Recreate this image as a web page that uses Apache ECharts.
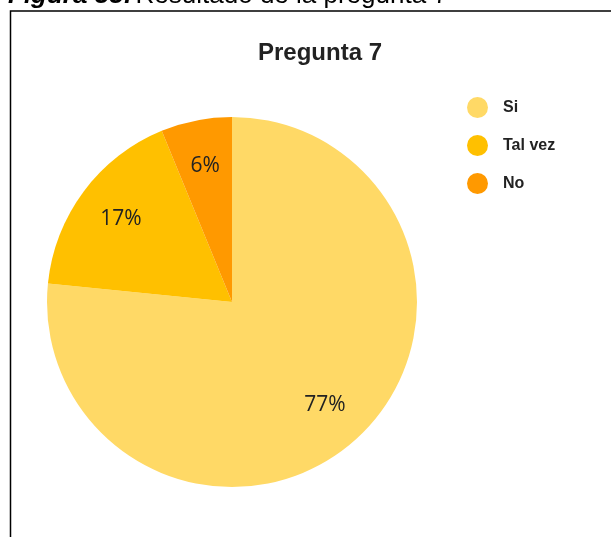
<!DOCTYPE html>
<html>
<head>
<meta charset="utf-8">
<script src="https://cdn.jsdelivr.net/npm/echarts@6/dist/echarts.min.js"></script>
<style>
html,body{margin:0;padding:0;background:#fff;}
#chart{width:611px;height:537px;}
</style>
</head>
<body>
<div id="chart"></div>
<script>
const categories = ['Si', 'Tal vez', 'No'];
const values = [76.6, 17.2, 6.2];
const colors = ['#FFD966', '#FFC000', '#FF9900'];
const titleText = 'Pregunta 7';
const captionBold = 'Figura 55:';
const captionText = 'Resultado de la pregunta 7';

const chart = echarts.init(document.getElementById('chart'), null, {renderer: 'canvas'});
const data = categories.map((c, i) => ({name: c, value: values[i], itemStyle: {color: colors[i]}}));

chart.setOption({
  animation: false,
  backgroundColor: '#fff',
  title: {
    text: titleText,
    left: 315, top: 36, textAlign: 'center',
    textStyle: {fontFamily: 'Liberation Sans, Arial', fontWeight: 'bold', fontSize: 24, color: '#222'}
  },
  legend: {
    orient: 'vertical',
    left: 462, top: 92,
    itemGap: 17,
    itemWidth: 21, itemHeight: 21,
    icon: 'circle',
    data: categories,
    textStyle: {fontFamily: 'Liberation Sans, Arial', fontWeight: 'bold', fontSize: 16, color: '#222', padding: [0,0,0,10]}
  },
  graphic: [
    {type: 'rect', shape: {x: 10.5, y: 11, width: 640, height: 600}, style: {fill: 'none', stroke: '#000', lineWidth: 1.5}, silent: true},
    {type: 'text', left: 8, top: -17, style: {rich: {b: {fontStyle: 'italic', fontWeight: 'bold', fontSize: 26, fontFamily: 'Liberation Sans, Arial', fill: '#000'}, r: {fontSize: 26, fontFamily: 'Liberation Sans, Arial', fill: '#000'}}, text: '{b|' + captionBold + '} {r|' + captionText + '}'}}
  ],
  series: [
    {
      type: 'pie',
      center: [232, 302],
      radius: [0, 185],
      startAngle: 90,
      clockwise: true,
      label: {show: false},
      labelLine: {show: false},
      emphasis: {disabled: true},
      data: data
    },
    {
      type: 'pie',
      center: [232, 302],
      radius: [86, 185],
      startAngle: 90,
      clockwise: true,
      silent: true,
      itemStyle: {color: 'transparent'},
      label: {
        show: true, position: 'inside',
        formatter: p => Math.round(p.value) + '%',
        fontFamily: 'Open Sans, Lato, sans-serif', fontSize: 21, color: '#222'
      },
      labelLine: {show: false},
      emphasis: {disabled: true},
      data: categories.map((c, i) => ({name: c, value: values[i], itemStyle: {color: 'transparent'}}))
    }
  ]
});
</script>
</body>
</html>
